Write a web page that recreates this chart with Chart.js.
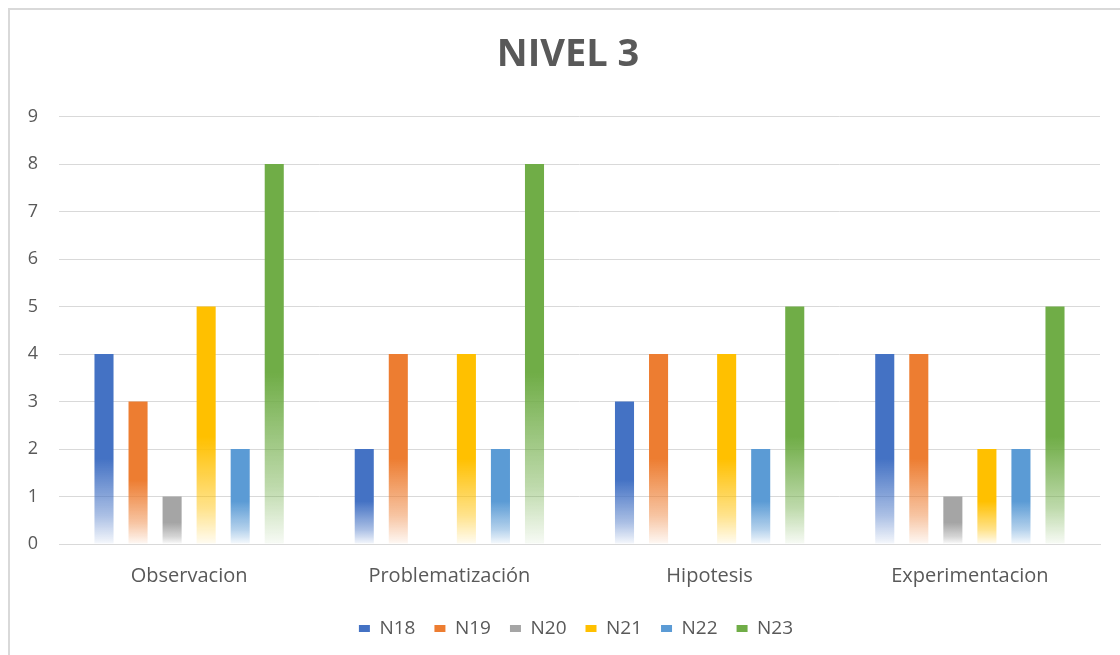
<!DOCTYPE html>
<html>
<head>
<meta charset="utf-8">
<script src="https://cdn.jsdelivr.net/npm/chart.js@4/dist/chart.umd.min.js"></script>
<style>
  html, body { margin: 0; padding: 0; background: #fff; }
  #wrap { position: relative; width: 1120px; height: 655px; overflow: hidden; }
  #frame { position: absolute; left: 8px; top: 8px; width: 1130px; height: 670px;
           border: 2px solid #d9d9d9; box-sizing: border-box; pointer-events: none; }
  canvas { position: absolute; left: 0; top: 0; }
</style>
</head>
<body>
<div id="wrap">
  <canvas id="c" width="1120" height="655"></canvas>
  <div id="frame"></div>
</div>
<script>
const categories = ['Observacion', 'Problematización', 'Hipotesis', 'Experimentacion'];
const seriesNames = ['N18', 'N19', 'N20', 'N21', 'N22', 'N23'];
const seriesColors = ['#4472C4', '#ED7D31', '#A5A5A5', '#FFC000', '#5B9BD5', '#70AD47'];
const n18 = [4, 2, 3, 4];
const n19 = [3, 4, 4, 4];
const n20 = [1, 0, 0, 1];
const n21 = [5, 4, 4, 2];
const n22 = [2, 2, 2, 2];
const n23 = [8, 8, 5, 5];
const seriesValues = [n18, n19, n20, n21, n22, n23];
const yTicks = [0, 1, 2, 3, 4, 5, 6, 7, 8, 9];

const FONT = '"Open Sans", "Liberation Sans", sans-serif';
const TEXT = '#595959';

function hexToRgba(hex, a) {
  const v = parseInt(hex.slice(1), 16);
  return `rgba(${(v >> 16) & 255},${(v >> 8) & 255},${v & 255},${a})`;
}

// Each bar fades from its solid colour at the top to near-white at the base
function barFill(color) {
  return (ctx) => {
    const chart = ctx.chart;
    if (ctx.type !== 'data' || !chart.chartArea) return color;
    const y = chart.scales.y;
    const top = y.getPixelForValue(ctx.parsed.y);
    const base = y.getPixelForValue(0);
    if (!isFinite(top) || base - top < 1) return color;
    const g = chart.ctx.createLinearGradient(0, top, 0, base);
    g.addColorStop(0, color);
    g.addColorStop(0.55, color);
    g.addColorStop(0.85, hexToRgba(color, 0.45));
    g.addColorStop(1, hexToRgba(color, 0.05));
    return g;
  };
}

// Centre the title and legend over the plot area rather than the whole canvas
const centreBlocks = {
  id: 'centreBlocks',
  afterLayout(chart) {
    const shift = (box, dx) => { if (box) { box.left += dx; box.right += dx; } };
    shift(chart.titleBlock, 18);
    shift(chart.legend, 26);
  }
};

const datasets = seriesNames.map((name, i) => ({
  label: name,
  data: seriesValues[i],
  backgroundColor: barFill(seriesColors[i]),
  borderWidth: 0,
  categoryPercentage: 0.785,
  barPercentage: 0.56
}));

new Chart(document.getElementById('c'), {
  type: 'bar',
  data: { labels: categories, datasets },
  plugins: [centreBlocks],
  options: {
    responsive: false,
    animation: false,
    layout: { padding: { left: 0, right: 20, top: 32, bottom: 7 } },
    plugins: {
      title: {
        display: true,
        text: 'NIVEL 3',
        color: TEXT,
        font: { family: FONT, size: 38, weight: 'bold' },
        padding: { top: 0, bottom: 39 }
      },
      legend: {
        position: 'bottom',
        labels: {
          color: TEXT,
          font: { family: FONT, size: 19 },
          boxWidth: 11,
          boxHeight: 7,
          padding: 19,
          generateLabels: (chart) => seriesNames.map((name, i) => ({
            text: name,
            fillStyle: seriesColors[i],
            strokeStyle: seriesColors[i],
            lineWidth: 0,
            datasetIndex: i,
            fontColor: TEXT
          }))
        }
      },
      tooltip: { enabled: false }
    },
    scales: {
      x: {
        grid: { display: false },
        border: { color: '#d9d9d9', width: 1 },
        ticks: { color: TEXT, font: { family: FONT, size: 20 }, padding: 12 }
      },
      y: {
        min: 0,
        max: 9,
        afterBuildTicks: (axis) => { axis.ticks = yTicks.map(v => ({ value: v })); },
        afterFit: (axis) => { axis.width = 59; },
        grid: { color: '#d9d9d9', lineWidth: 1, drawTicks: false },
        border: { display: false },
        ticks: { color: TEXT, font: { family: FONT, size: 18 }, padding: 21 }
      }
    }
  }
});
</script>
</body>
</html>
